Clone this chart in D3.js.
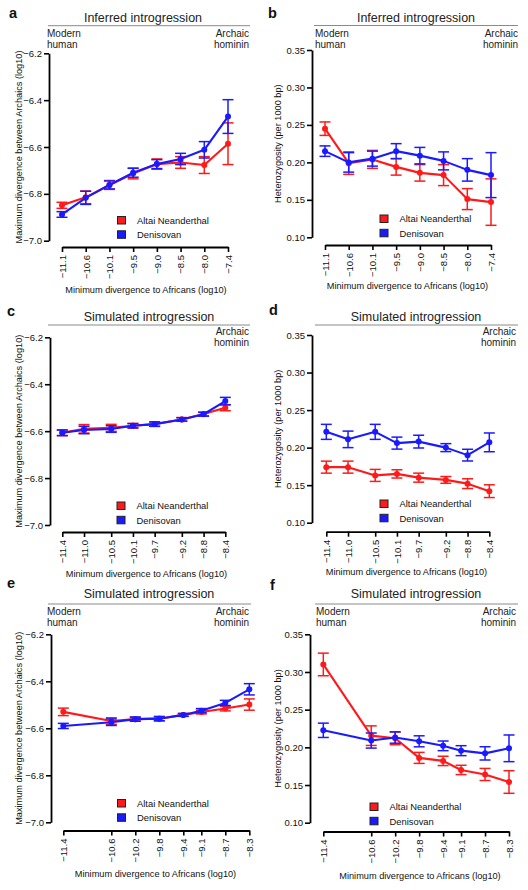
<!DOCTYPE html>
<html>
<head>
<meta charset="utf-8">
<script src="https://cdn.jsdelivr.net/npm/d3@7"></script>
<style>
  html, body { margin: 0; padding: 0; background: #fff; }
  svg { display: block; }
</style>
</head>
<body>
<div id="chart"></div>
<script>
// ---------------- DATA ----------------
const seriesNames = ["Altai Neanderthal", "Denisovan"];
const divTicks = [-6.2, -6.4, -6.6, -6.8, -7.0];
const hetTicks = [0.10, 0.15, 0.20, 0.25, 0.30, 0.35];

// Inferred introgression (panels a, b)
const xInferred = [-11.1, -10.6, -10.1, -9.5, -9.0, -8.5, -8.0, -7.4];
const aAltai     = [-6.849, -6.815, -6.762, -6.713, -6.673, -6.666, -6.677, -6.586];
const aAltaiErr  = [0.013, 0.027, 0.019, 0.023, 0.022, 0.025, 0.036, 0.089];
const aDeni      = [-6.888, -6.817, -6.762, -6.710, -6.673, -6.651, -6.612, -6.470];
const aDeniErr   = [0.012, 0.028, 0.017, 0.019, 0.019, 0.024, 0.035, 0.072];

const bAltai     = [0.245, 0.199, 0.204, 0.194, 0.186, 0.183, 0.151, 0.147];
const bAltaiErr  = [0.009, 0.015, 0.012, 0.011, 0.011, 0.014, 0.014, 0.031];
const bDeni      = [0.215, 0.200, 0.205, 0.215, 0.209, 0.202, 0.190, 0.183];
const bDeniErr   = [0.007, 0.013, 0.010, 0.010, 0.011, 0.012, 0.015, 0.030];

// Simulated introgression (panels c, d)
const xSimCD = [-11.4, -11.0, -10.5, -10.1, -9.7, -9.2, -8.8, -8.4];
const cAltai     = [-6.607, -6.590, -6.586, -6.577, -6.570, -6.550, -6.527, -6.500];
const cAltaiErr  = [0.012, 0.018, 0.015, 0.010, 0.010, 0.008, 0.008, 0.013];
const cDeni      = [-6.607, -6.595, -6.591, -6.577, -6.570, -6.550, -6.528, -6.472];
const cDeniErr   = [0.012, 0.016, 0.014, 0.009, 0.009, 0.007, 0.008, 0.016];

const dAltai     = [0.174, 0.174, 0.163, 0.165, 0.160, 0.157, 0.152, 0.142];
const dAltaiErr  = [0.008, 0.008, 0.008, 0.0055, 0.006, 0.0045, 0.0065, 0.0085];
const dDeni      = [0.221, 0.211, 0.221, 0.206, 0.208, 0.200, 0.190, 0.207];
const dDeniErr   = [0.010, 0.011, 0.010, 0.008, 0.0085, 0.0053, 0.0078, 0.0125];

// Simulated introgression (panels e, f)
const xSimEF = [-11.4, -10.6, -10.2, -9.8, -9.4, -9.1, -8.7, -8.3];
const eAltai     = [-6.530, -6.569, -6.561, -6.559, -6.543, -6.531, -6.516, -6.499];
const eAltaiErr  = [0.016, 0.014, 0.008, 0.009, 0.006, 0.008, 0.010, 0.024];
const eDeni      = [-6.590, -6.574, -6.561, -6.559, -6.543, -6.525, -6.492, -6.434];
const eDeniErr   = [0.011, 0.014, 0.009, 0.009, 0.006, 0.009, 0.011, 0.024];

const fAltai     = [0.310, 0.2155, 0.212, 0.186, 0.182, 0.170, 0.164, 0.154];
const fAltaiErr  = [0.015, 0.013, 0.0085, 0.0073, 0.0062, 0.0062, 0.008, 0.015];
const fDeni      = [0.2226, 0.209, 0.213, 0.208, 0.202, 0.1956, 0.192, 0.1987];
const fDeniErr   = [0.0095, 0.010, 0.0075, 0.0073, 0.0064, 0.0066, 0.0088, 0.0177];

// ---------------- STYLE ----------------
const FONT = "'Liberation Sans', Arial, Helvetica, sans-serif";
const colors = ["#ff1a1a", "#1a1aff"];
const divLabel = "Maximum divergence between Archaics (log10)";
const hetLabel = "Heterozygosity (per 1000 bp)";
const xLabel = "Minimum divergence to Africans (log10)";

const panels = [
  { id: "a", title: "Inferred introgression", modern: true,
    x: xInferred, pointScale: true, yTicks: divTicks, yDomain: [-7.0, -6.2], yFmt: ".1f", yLab: divLabel,
    series: [[aAltai, aAltaiErr], [aDeni, aDeniErr]],
    L: { tag: [9, 18], tx: 143, ty: 22, ln: [48, 250, 25.7], mx: 47, my: 36.7, ax: 249,
         yAx: 49, yT: 53.3, yB: 240.7, xAy: 247, xL: 62, xR: 228, yLabX: 21.5,
         xLabX: 146, xLabY: 292.5, leg: [117.5, 216.5] } },
  { id: "b", title: "Inferred introgression", modern: true,
    x: xInferred, pointScale: true, yTicks: hetTicks, yDomain: [0.10, 0.35], yFmt: ".2f", yLab: hetLabel,
    series: [[bAltai, bAltaiErr], [bDeni, bDeniErr]],
    L: { tag: [268, 18], tx: 416, ty: 22, ln: [314, 518, 25.5], mx: 315, my: 36.7, ax: 518,
         yAx: 312, yT: 50, yB: 237.3, xAy: 245, xL: 325, xR: 491, yLabX: 280.5,
         xLabX: 407.5, xLabY: 288.5, leg: [380, 215] } },
  { id: "c", title: "Simulated introgression", modern: false,
    x: xSimCD, pointScale: false, yTicks: divTicks, yDomain: [-7.0, -6.2], yFmt: ".1f", yLab: divLabel,
    series: [[cAltai, cAltaiErr], [cDeni, cDeniErr]],
    L: { tag: [7, 316], tx: 149, ty: 320.5, ln: [48, 250, 325], mx: 47, my: 335, ax: 249,
         yAx: 50, yT: 337.3, yB: 525, xAy: 532, xL: 62.3, xR: 225.3, yLabX: 21.5,
         xLabX: 146.5, xLabY: 576.5, leg: [117, 502] } },
  { id: "d", title: "Simulated introgression", modern: false,
    x: xSimCD, pointScale: false, yTicks: hetTicks, yDomain: [0.10, 0.35], yFmt: ".2f", yLab: hetLabel,
    series: [[dAltai, dAltaiErr], [dDeni, dDeniErr]],
    L: { tag: [269, 315], tx: 416, ty: 320.5, ln: [315, 518, 325], mx: 315, my: 335, ax: 516,
         yAx: 312, yT: 335, yB: 522.7, xAy: 531.7, xL: 326.3, xR: 489.3, yLabX: 280.5,
         xLabX: 406.5, xLabY: 574.5, leg: [380, 500] } },
  { id: "e", title: "Simulated introgression", modern: true,
    x: xSimEF, pointScale: false, yTicks: divTicks, yDomain: [-7.0, -6.2], yFmt: ".1f", yLab: divLabel,
    series: [[eAltai, eAltaiErr], [eDeni, eDeniErr]],
    L: { tag: [7, 588], tx: 149, ty: 598, ln: [48, 251, 604], mx: 47, my: 615, ax: 249,
         yAx: 51, yT: 634.3, yB: 822.3, xAy: 830.5, xL: 63.3, xR: 249.3, yLabX: 21.5,
         xLabX: 155.5, xLabY: 876.5, leg: [117.5, 799.5] } },
  { id: "f", title: "Simulated introgression", modern: true,
    x: xSimEF, pointScale: false, yTicks: hetTicks, yDomain: [0.10, 0.35], yFmt: ".2f", yLab: hetLabel,
    series: [[fAltai, fAltaiErr], [fDeni, fDeniErr]],
    L: { tag: [270, 590], tx: 416, ty: 598, ln: [315, 518, 604], mx: 316, my: 615, ax: 516,
         yAx: 310, yT: 634.3, yB: 822.7, xAy: 831.5, xL: 323.3, xR: 509, yLabX: 280.5,
         xLabX: 420, xLabY: 878.5, leg: [370, 803] } }
];

// ---------------- DRAW ----------------
const svg = d3.select("#chart").append("svg")
  .attr("width", 528).attr("height", 890)
  .style("font-family", FONT);
svg.append("rect").attr("width", 528).attr("height", 890).attr("fill", "#fff");

panels.forEach(p => {
  const L = p.L;
  const g = svg.append("g").attr("class", "panel-" + p.id);

  // panel tag
  g.append("text").attr("x", L.tag[0]).attr("y", L.tag[1])
    .attr("font-size", 14.5).attr("font-weight", "bold").attr("fill", "#111").text(p.id);

  // title and rule
  g.append("text").attr("x", L.tx).attr("y", L.ty).attr("text-anchor", "middle")
    .attr("font-size", 12.5).attr("fill", "#222").text(p.title);
  g.append("line").attr("x1", L.ln[0]).attr("x2", L.ln[1]).attr("y1", L.ln[2]).attr("y2", L.ln[2])
    .attr("stroke", "#8a8a8a").attr("stroke-width", 1);

  // Modern human / Archaic hominin
  if (p.modern) {
    const t = g.append("text").attr("font-size", 10).attr("fill", "#222");
    t.append("tspan").attr("x", L.mx).attr("y", L.my).text("Modern");
    t.append("tspan").attr("x", L.mx).attr("y", L.my + 11.3).text("human");
  }
  const t2 = g.append("text").attr("font-size", 10).attr("fill", "#222").attr("text-anchor", "end");
  t2.append("tspan").attr("x", L.ax).attr("y", L.my).text("Archaic");
  t2.append("tspan").attr("x", L.ax).attr("y", L.my + 11.3).text("hominin");

  // scales
  const x = p.pointScale
    ? d3.scalePoint().domain(p.x).range([L.xL, L.xR]).padding(0)
    : d3.scaleLinear().domain([p.x[0], p.x[p.x.length - 1]]).range([L.xL, L.xR]);
  const y = d3.scaleLinear().domain(p.yDomain).range([L.yB, L.yT]);

  // y axis
  const yAxis = g.append("g").attr("transform", `translate(${L.yAx},0)`)
    .call(d3.axisLeft(y).tickValues(p.yTicks).tickFormat(d3.format(p.yFmt))
      .tickSize(5).tickSizeOuter(0).tickPadding(2));
  yAxis.select(".domain").attr("stroke", "#000").attr("stroke-width", 1.8);
  yAxis.selectAll(".tick line").attr("stroke", "#000").attr("stroke-width", 1.6);
  yAxis.selectAll("text").attr("font-size", 9.5).attr("font-family", FONT).attr("fill", "#111");

  // x axis
  const xAxis = g.append("g").attr("transform", `translate(0,${L.xAy})`)
    .call(d3.axisBottom(x).tickValues(p.x).tickFormat(d3.format(".1f"))
      .tickSize(5).tickSizeOuter(0));
  xAxis.select(".domain").attr("stroke", "#000").attr("stroke-width", 1.8);
  xAxis.selectAll(".tick line").attr("stroke", "#000").attr("stroke-width", 1.6);
  xAxis.selectAll("text").attr("font-size", 9.5).attr("font-family", FONT).attr("fill", "#111")
    .attr("transform", "rotate(-90)").attr("text-anchor", "end")
    .attr("x", -8).attr("y", 0).attr("dy", "0.35em");

  // axis titles
  g.append("text").attr("transform", `translate(${L.yLabX},${(L.yT + L.yB) / 2}) rotate(-90)`)
    .attr("text-anchor", "middle").attr("font-size", 9.2).attr("fill", "#111").text(p.yLab);
  g.append("text").attr("x", L.xLabX).attr("y", L.xLabY).attr("text-anchor", "middle")
    .attr("font-size", 9.2).attr("fill", "#111").text(xLabel);

  // series
  const line = d3.line().x(d => x(d.x)).y(d => y(d.v));
  p.series.forEach((s, si) => {
    const data = p.x.map((xv, i) => ({ x: xv, v: s[0][i], e: s[1][i] }));
    const sg = g.append("g");
    sg.append("path").datum(data).attr("d", line)
      .attr("fill", "none").attr("stroke", colors[si]).attr("stroke-width", 2.1)
      .attr("stroke-linejoin", "round");
    const eb = sg.selectAll(".eb").data(data).join("g");
    eb.append("line").attr("x1", d => x(d.x)).attr("x2", d => x(d.x))
      .attr("y1", d => y(d.v - d.e)).attr("y2", d => y(d.v + d.e))
      .attr("stroke", colors[si]).attr("stroke-width", 1.5);
    [-1, 1].forEach(sgn => {
      eb.append("line").attr("x1", d => x(d.x) - 5.5).attr("x2", d => x(d.x) + 5.5)
        .attr("y1", d => y(d.v + sgn * d.e)).attr("y2", d => y(d.v + sgn * d.e))
        .attr("stroke", colors[si]).attr("stroke-width", 1.5);
    });
    eb.append("circle").attr("cx", d => x(d.x)).attr("cy", d => y(d.v)).attr("r", 3)
      .attr("fill", colors[si]);
  });

  // legend
  seriesNames.forEach((name, i) => {
    const ly = L.leg[1] + i * 14.3;
    g.append("rect").attr("x", L.leg[0]).attr("y", ly).attr("width", 8).attr("height", 7.5)
      .attr("fill", colors[i]).attr("stroke", "#222").attr("stroke-width", 1);
    g.append("text").attr("x", L.leg[0] + 19.5).attr("y", ly + 7.3)
      .attr("font-size", 9.4).attr("fill", "#111").text(name);
  });
});
</script>
</body>
</html>
